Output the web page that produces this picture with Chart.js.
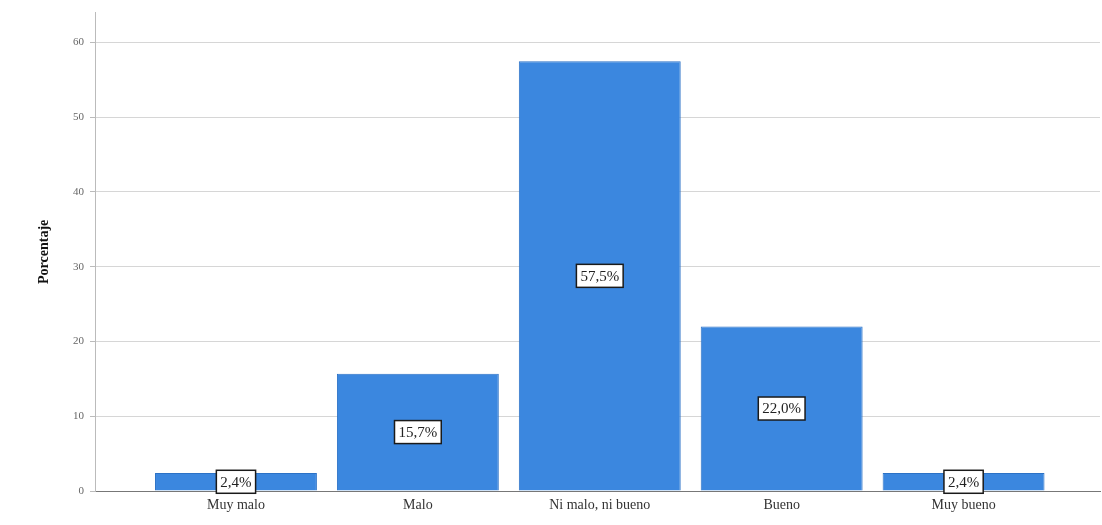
<!DOCTYPE html>
<html>
<head>
<meta charset="utf-8">
<script src="https://cdn.jsdelivr.net/npm/chart.js@4.4.0/dist/chart.umd.min.js"></script>
<style>
  html, body { margin: 0; padding: 0; background: #fff; }
  #wrap { width: 1102px; height: 525px; }
</style>
</head>
<body>
<div id="wrap"><canvas id="chart"></canvas></div>
<script>
const categories = ['Muy malo', 'Malo', 'Ni malo, ni bueno', 'Bueno', 'Muy bueno'];
const percentages = [2.4, 15.7, 57.5, 22.0, 2.4];
const yTicks = [0, 10, 20, 30, 40, 50, 60];

// etiqueta con recuadro blanco en el centro de cada barra
const boxLabels = {
  id: 'boxLabels',
  afterDatasetsDraw(chart) {
    const ctx = chart.ctx;
    const meta = chart.getDatasetMeta(0);
    ctx.save();
    ctx.font = '15px "Liberation Serif", serif';
    ctx.textAlign = 'center';
    ctx.textBaseline = 'middle';
    meta.data.forEach((bar, i) => {
      const txt = percentages[i].toFixed(1).replace('.', ',') + '%';
      const w = ctx.measureText(txt).width + 8;
      const h = 23;
      const cx = bar.x;
      const cy = (bar.y + bar.base) / 2;
      ctx.fillStyle = '#ffffff';
      ctx.fillRect(cx - w / 2, cy - h / 2, w, h);
      ctx.strokeStyle = '#1a1a1a';
      ctx.lineWidth = 1.5;
      ctx.strokeRect(cx - w / 2, cy - h / 2, w, h);
      ctx.fillStyle = '#222';
      ctx.fillText(txt, cx, cy + 1);
    });
    ctx.restore();
  }
};

new Chart(document.getElementById('chart'), {
  type: 'bar',
  data: {
    datasets: [{
      data: percentages.map((v, i) => ({ x: i + 1, y: v })),
      backgroundColor: '#3b87df',
      borderColor: '#2c72c6',
      borderWidth: 1,
      barPercentage: 0.89,
      categoryPercentage: 1
    }]
  },
  options: {
    responsive: true,
    maintainAspectRatio: false,
    animation: false,
    layout: { padding: { top: 10, right: 2, left: 36, bottom: 0 } },
    plugins: { legend: { display: false }, tooltip: { enabled: false } },
    scales: {
      x: {
        type: 'linear',
        offset: false,
        min: 0.225,
        max: 5.75,
        afterBuildTicks: (s) => { s.ticks = categories.map((c, i) => ({ value: i + 1 })); },
        afterFit: (s) => { s.height = 34; },
        ticks: {
          autoSkip: false,
          maxRotation: 0,
          padding: 6,
          color: '#333',
          font: { family: '"Liberation Serif", serif', size: 14 },
          callback: (v) => categories[v - 1]
        },
        grid: { display: false, drawTicks: false },
        border: { color: '#777', width: 1 }
      },
      y: {
        min: 0,
        max: 64,
        afterBuildTicks: (s) => { s.ticks = yTicks.map(v => ({ value: v })); },
        afterFit: (s) => { s.width = 59; },
        title: {
          display: true,
          text: 'Porcentaje',
          color: '#111',
          padding: 0,
          font: { family: '"Liberation Serif", serif', size: 14, weight: 'bold' }
        },
        ticks: {
          color: '#666',
          padding: 6,
          font: { family: '"Liberation Serif", serif', size: 11 }
        },
        grid: { color: '#d6d6d6', tickLength: 5, tickColor: '#bbb' },
        border: { color: '#bbb', width: 1 }
      }
    }
  },
  plugins: [boxLabels]
});
</script>
</body>
</html>
